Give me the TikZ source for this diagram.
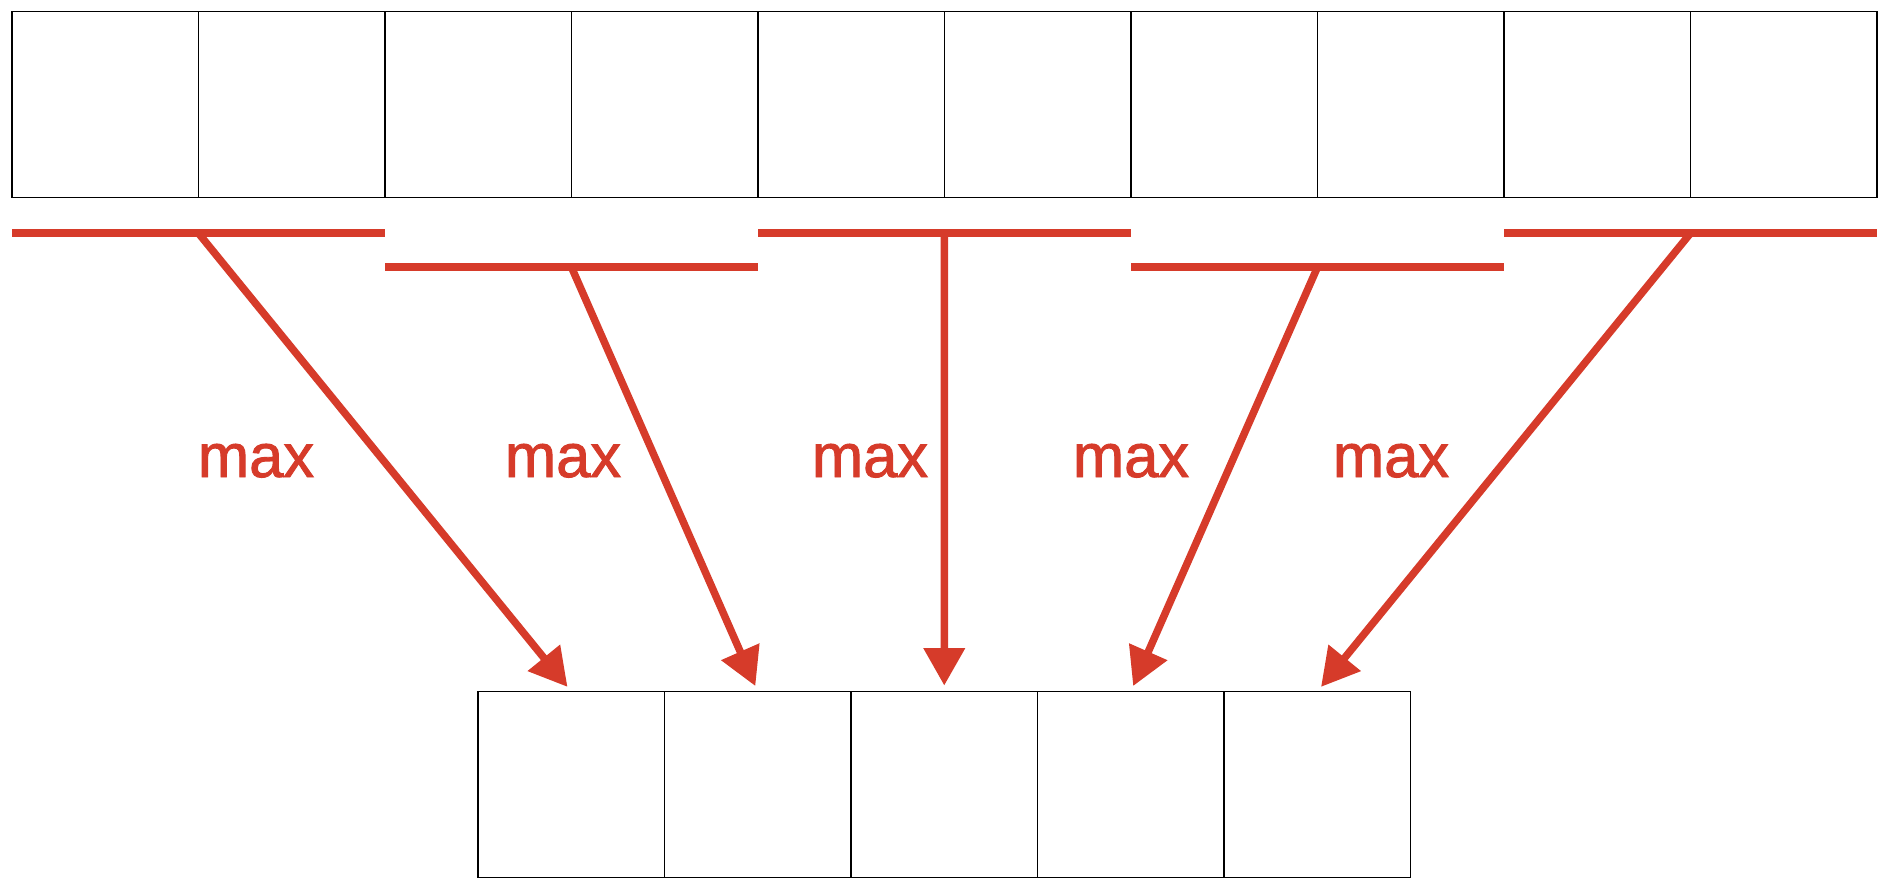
\documentclass[tikz,border=0pt]{standalone}
\usepackage{fontspec}
\setmainfont{Liberation Sans}
\newfontfamily\maxfont{Liberation Sans}[BoldFont={Liberation Sans}, BoldFeatures={FakeBold=1.5}]
\usetikzlibrary{arrows.meta}
\definecolor{maxred}{RGB}{214,59,42}
\tikzset{
    cell/.style={draw, line width=0.8pt, minimum width=3.73cm, minimum height=3.72cm, inner sep=0pt, outer sep=0pt},
    poolbar/.style={draw=maxred, line width=0.16cm},
    poolarrow/.style={draw=maxred, line width=0.15cm, -{Triangle[length=0.75cm, width=0.8cm]}, shorten >=0.12cm},
    maxlabel/.style={text=maxred, font=\maxfont\bfseries\fontsize{35}{40}\selectfont, anchor=base, inner sep=0pt}
}
\begin{document}
\begin{tikzpicture}[x=0.02cm, y=-0.02cm]
    \useasboundingbox (0,0) rectangle (1884,890);
%   input row
    \node[cell](t1)  at (105.25,104.25) {};
    \node[cell](t2)  at (291.75,104.25) {};
    \node[cell](t3)  at (478.25,104.25) {};
    \node[cell](t4)  at (664.75,104.25) {};
    \node[cell](t5)  at (851.25,104.25) {};
    \node[cell](t6)  at (1037.75,104.25) {};
    \node[cell](t7)  at (1224.25,104.25) {};
    \node[cell](t8)  at (1410.75,104.25) {};
    \node[cell](t9)  at (1597.25,104.25) {};
    \node[cell](t10) at (1783.75,104.25) {};
%   output row
    \node[cell](b1)  at (571.25,784.5) {};
    \node[cell](b2)  at (757.75,784.5) {};
    \node[cell](b3)  at (944.25,784.5) {};
    \node[cell](b4)  at (1130.75,784.5) {};
    \node[cell](b5)  at (1317.25,784.5) {};
%   pooling windows
    \coordinate(m1) at ([yshift=-0.72cm]t1.south east);
    \coordinate(m2) at ([yshift=-1.40cm]t3.south east);
    \coordinate(m3) at ([yshift=-0.72cm]t5.south east);
    \coordinate(m4) at ([yshift=-1.40cm]t7.south east);
    \coordinate(m5) at ([yshift=-0.72cm]t9.south east);
    \draw[poolbar] ([yshift=-0.72cm]t1.south west) -- ([yshift=-0.72cm]t2.south east);
    \draw[poolbar] ([yshift=-1.40cm]t3.south west) -- ([yshift=-1.40cm]t4.south east);
    \draw[poolbar] ([yshift=-0.72cm]t5.south west) -- ([yshift=-0.72cm]t6.south east);
    \draw[poolbar] ([yshift=-1.40cm]t7.south west) -- ([yshift=-1.40cm]t8.south east);
    \draw[poolbar] ([yshift=-0.72cm]t9.south west) -- ([yshift=-0.72cm]t10.south east);

    \draw[poolarrow] (m1) to (b1.north);
    \draw[poolarrow] (m2) to (b2.north);
    \draw[poolarrow] (m3) to (b3.north);
    \draw[poolarrow] (m4) to (b4.north);
    \draw[poolarrow] (m5) to (b5.north);

    \node[maxlabel](max1) at (256,477)  {max};
    \node[maxlabel](max2) at (563,477)  {max};
    \node[maxlabel](max3) at (870,477)  {max};
    \node[maxlabel](max4) at (1131,477) {max};
    \node[maxlabel](max5) at (1391,477) {max};
\end{tikzpicture}
\end{document}
